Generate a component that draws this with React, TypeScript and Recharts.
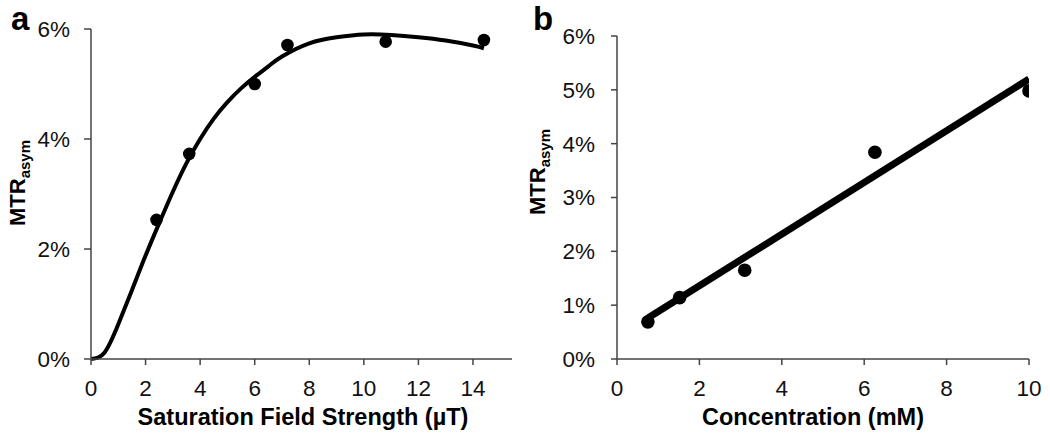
import React from 'react';
import { ComposedChart, Line, Scatter, XAxis, YAxis, Label } from 'recharts';

// panel a: saturation field strength (µT) vs MTRasym (%)
const fieldPoints = [2.4, 3.6, 6.0, 7.2, 10.8, 14.4];
const fieldMtr = [2.53, 3.73, 5.0, 5.71, 5.77, 5.8];
// fitted curve
const fitX = [0, 0.5, 1, 1.5, 2, 2.5, 3, 3.5, 4, 4.5, 5, 5.5, 6, 6.5, 7, 8, 9, 10, 11, 12, 13, 14, 14.4];
const fitY = [0, 0.12, 0.63, 1.25, 1.88, 2.47, 3.04, 3.56, 4.0, 4.37, 4.67, 4.92, 5.13, 5.32, 5.5, 5.74, 5.85, 5.9, 5.89, 5.85, 5.79, 5.7, 5.65];
const fieldTicks = [0, 2, 4, 6, 8, 10, 12, 14];
const mtrTicksA = [0, 2, 4, 6];

// panel b: concentration (mM) vs MTRasym (%)
const concPoints = [0.75, 1.52, 3.1, 6.26, 10];
const concMtr = [0.69, 1.14, 1.65, 3.84, 4.98];
const trendX = [0.75, 10];
const trendY = [0.76, 5.2];
const concTicks = [0, 2, 4, 6, 8, 10];
const mtrTicksB = [0, 1, 2, 3, 4, 5, 6];

const FONT = "'Liberation Sans', Arial, sans-serif";
const AXIS = '#444';

const zip = (xs: number[], ys: number[]) => xs.map((x, i) => ({ x, y: ys[i] }));

const dataA = zip(fieldPoints, fieldMtr);
const curveA = zip(fitX, fitY);
const dataB = zip(concPoints, concMtr);
const lineB = zip(trendX, trendY);

const pct = (v: number) => `${v}%`;
const tickStyle = { fontSize: 22.5, fill: '#111', fontFamily: FONT };

const dot = (r: number) => (props: any) => <circle cx={props.cx} cy={props.cy} r={r} fill="#000" />;

function MtrLabel(x: number, y: number) {
  return (
    <text
      transform={`translate(${x},${y}) rotate(-90)`}
      textAnchor="middle"
      fontFamily={FONT}
      fontWeight="bold"
      fontSize={22}
      fill="#000"
    >
      MTR
      <tspan fontSize={15} dy={5}>asym</tspan>
    </text>
  );
}

function AxisTitle(x: number, y: number, text: string) {
  return (
    <text x={x} y={y} textAnchor="middle" fontFamily={FONT} fontWeight="bold" fontSize={23.5} fill="#000">
      {text}
    </text>
  );
}

export default function App() {
  return (
    <div style={{ position: 'absolute', left: 0, top: 0, width: 1050, height: 440, background: '#fff', fontFamily: FONT }}>
      <div style={{ position: 'absolute', left: 0, top: 0 }}>
        <ComposedChart width={520} height={440} margin={{ top: 29, right: 8, bottom: 0, left: 0 }}>
          <XAxis
            type="number"
            dataKey="x"
            domain={[0, 15.43]}
            ticks={fieldTicks}
            allowDataOverflow
            height={81}
            tickSize={6}
            tickMargin={15}
            tick={tickStyle}
            axisLine={{ stroke: AXIS, strokeWidth: 1.5 }}
            tickLine={{ stroke: AXIS, strokeWidth: 1.5 }}
          >
            <Label content={() => AxisTitle(303, 425, 'Saturation Field Strength (µT)')} />
          </XAxis>
          <YAxis
            type="number"
            dataKey="y"
            domain={[0, 6]}
            ticks={mtrTicksA}
            tickFormatter={pct}
            width={91}
            tickSize={7}
            tickMargin={14}
            tick={tickStyle}
            axisLine={{ stroke: AXIS, strokeWidth: 1.5 }}
            tickLine={{ stroke: AXIS, strokeWidth: 1.5 }}
          >
            <Label content={() => MtrLabel(25, 183)} />
          </YAxis>
          <Line
            data={curveA}
            dataKey="y"
            type="natural"
            stroke="#000"
            strokeWidth={4}
            dot={false}
            activeDot={false}
            isAnimationActive={false}
          />
          <Scatter data={dataA} dataKey="y" shape={dot(6.3)} isAnimationActive={false} />
        </ComposedChart>
      </div>
      <div style={{ position: 'absolute', left: 520, top: 0 }}>
        <ComposedChart width={530} height={440} margin={{ top: 36, right: 21, bottom: 0, left: 0 }}>
          <XAxis
            type="number"
            dataKey="x"
            domain={[0, 10]}
            ticks={concTicks}
            allowDataOverflow
            height={81}
            tickSize={6}
            tickMargin={15}
            tick={tickStyle}
            axisLine={{ stroke: AXIS, strokeWidth: 1.5 }}
            tickLine={{ stroke: AXIS, strokeWidth: 1.5 }}
          >
            <Label content={() => AxisTitle(293, 425, 'Concentration (mM)')} />
          </XAxis>
          <YAxis
            type="number"
            dataKey="y"
            domain={[0, 6]}
            ticks={mtrTicksB}
            tickFormatter={pct}
            width={97}
            tickSize={6}
            tickMargin={16}
            tick={tickStyle}
            axisLine={{ stroke: AXIS, strokeWidth: 1.5 }}
            tickLine={{ stroke: AXIS, strokeWidth: 1.5 }}
          >
            <Label content={() => MtrLabel(25, 172)} />
          </YAxis>
          <Line
            data={lineB}
            dataKey="y"
            type="linear"
            stroke="#000"
            strokeWidth={7}
            dot={false}
            activeDot={false}
            isAnimationActive={false}
          />
          <Scatter data={dataB} dataKey="y" shape={dot(6.8)} isAnimationActive={false} />
        </ComposedChart>
      </div>
      <svg width={1050} height={440} style={{ position: 'absolute', left: 0, top: 0, pointerEvents: 'none' }}>
        <text x={11} y={30} fontFamily={FONT} fontWeight="bold" fontSize={33} fill="#000">a</text>
        <text x={533} y={30} fontFamily={FONT} fontWeight="bold" fontSize={33} fill="#000">b</text>
      </svg>
    </div>
  );
}
